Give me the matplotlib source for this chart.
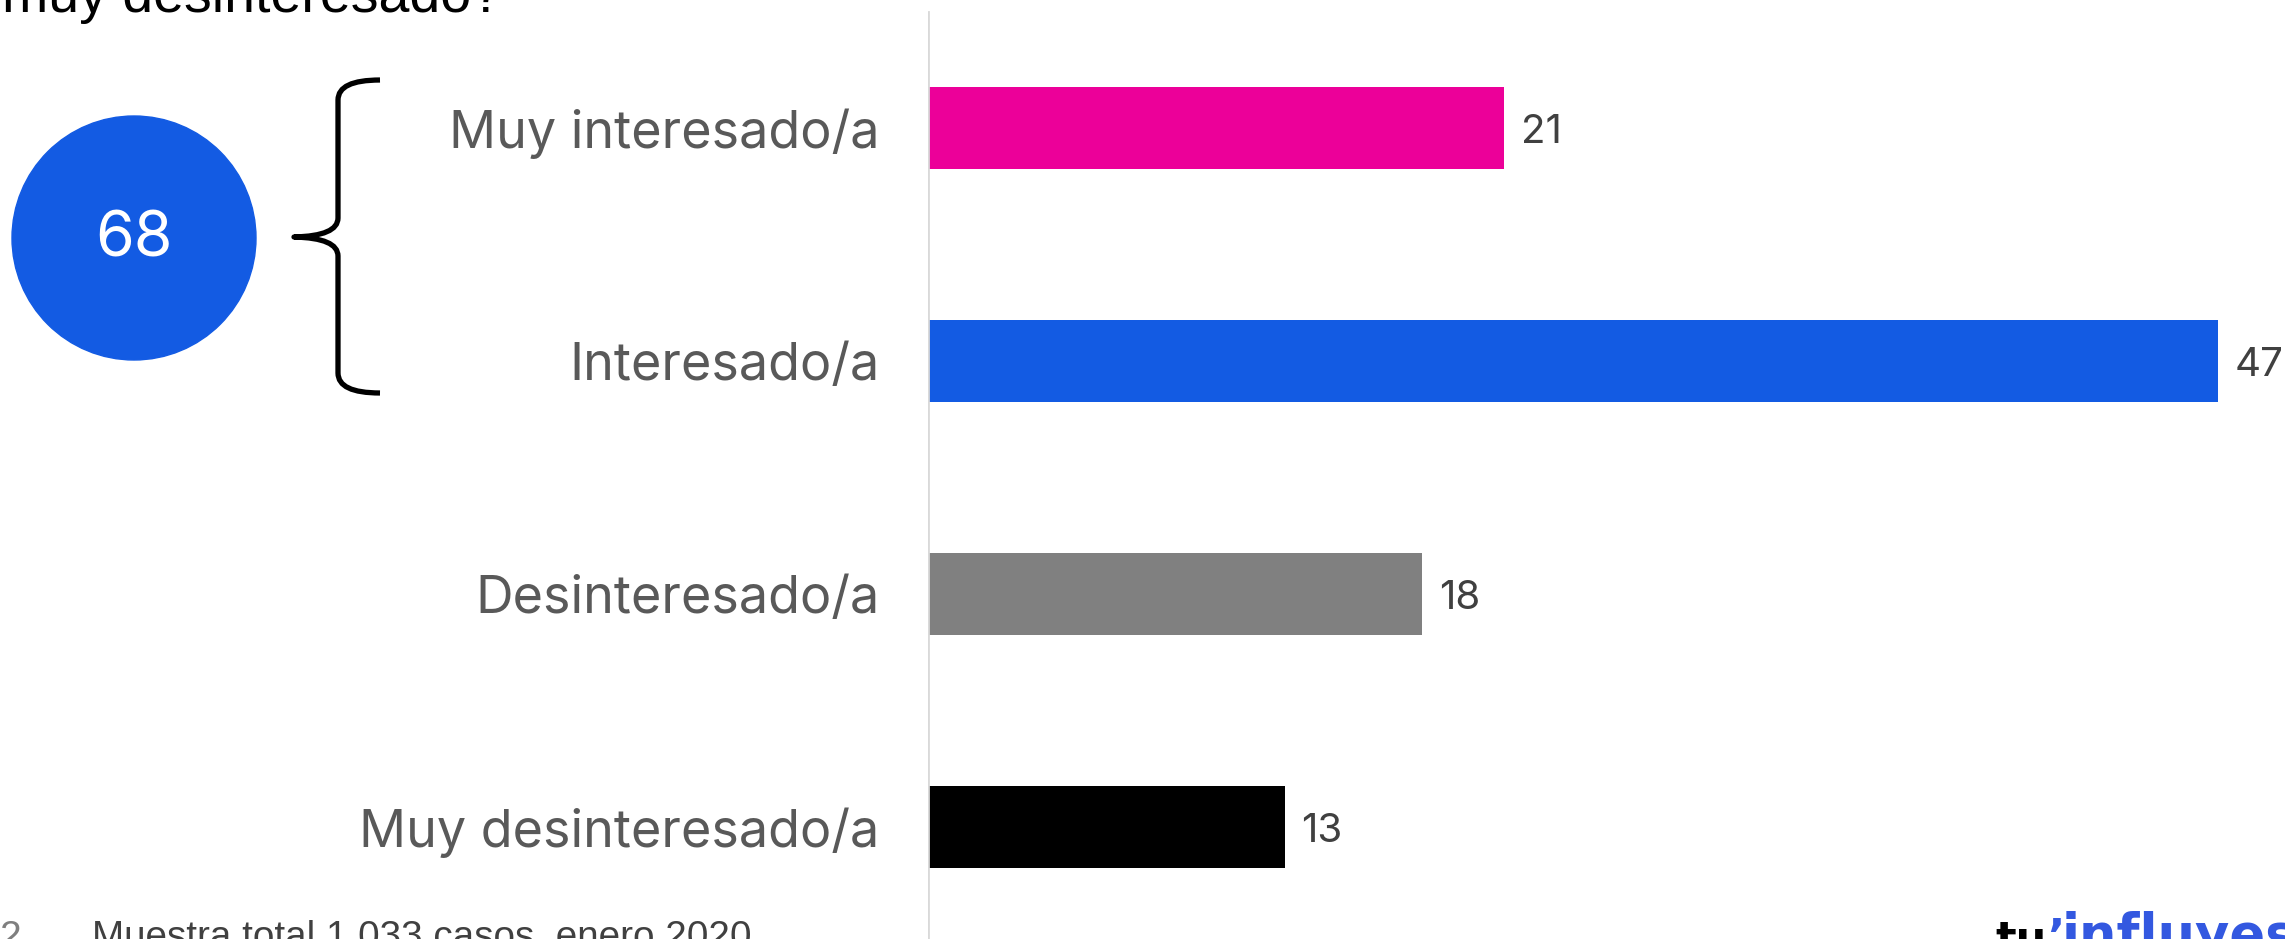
import matplotlib
matplotlib.use("Agg")
import matplotlib.pyplot as plt
from matplotlib.patches import Circle, PathPatch
from matplotlib.path import Path

# data
categories = ["Muy interesado/a", "Interesado/a", "Desinteresado/a", "Muy desinteresado/a"]
values = [21, 47, 18, 13]
colors = ["#EC0099", "#135BE3", "#808080", "#000000"]
total_interested = 68

W, H = 2285, 939
fig = plt.figure(figsize=(W / 100, H / 100), dpi=100)
fig.patch.set_facecolor("white")

# bar axes (left edge at x=928 px)
px_per_unit = 27.45
x0 = 928
ax = fig.add_axes([x0 / W, 0, 1 - x0 / W, 1])
ax.patch.set_visible(False)
ypos = list(range(len(categories)))
ax.barh(ypos, values, height=0.352, color=colors)
ax.set_xlim(0, (W - x0) / px_per_unit)
ax.set_ylim(3.481, -0.549)
for s in ax.spines.values():
    s.set_visible(False)
ax.axvline(0, ymin=0, ymax=1 - 12 / H, color="#D9D9D9", lw=2)
ax.set_xticks([])
ax.set_yticks(ypos)
ax.set_yticklabels(categories, fontsize=37.5, color="#595959", family="Inter")
ax.tick_params(axis="y", length=0, pad=35)
for y, v in zip(ypos, values):
    ax.text(v + 0.6, y + 0.02, str(v), va="center", ha="left", fontsize=29,
            color="#404040", family="Inter")

# overlay in pixel coordinates for the decorations
ov = fig.add_axes([0, 0, 1, 1], zorder=-1)
ov.set_xlim(0, W)
ov.set_ylim(H, 0)
ov.axis("off")

ov.add_patch(Circle((134, 238), 122, color="#135BE3"))
ov.text(134, 240, str(total_interested), ha="center", va="center", fontsize=45,
        color="white", family="Inter")

# curly brace
verts = [(380, 80), (338, 80), (338, 100),
         (338, 218),
         (338, 236), (294, 237),
         (338, 238), (338, 256),
         (338, 373),
         (338, 393), (380, 393)]
codes = [Path.MOVETO, Path.CURVE3, Path.CURVE3,
         Path.LINETO,
         Path.CURVE3, Path.CURVE3,
         Path.CURVE3, Path.CURVE3,
         Path.LINETO,
         Path.CURVE3, Path.CURVE3]
ov.add_patch(PathPatch(Path(verts, codes), fill=False, lw=3.8, edgecolor="black",
                       capstyle="butt", joinstyle="round"))

# cropped slide texts
ov.text(2, 12, "muy desinteresado?", ha="left", va="baseline", fontsize=40,
        color="black", family="Liberation Sans")
ov.text(0, 948, "2", ha="left", va="baseline", fontsize=28, color="#7F7F7F",
        family="Liberation Sans")
ov.text(92, 948, "Muestra total 1.033 casos, enero 2020", ha="left", va="baseline",
        fontsize=27.8, color="#404040", family="Liberation Sans")
ov.text(1995, 952, "tu", ha="left", va="baseline", fontsize=31, fontweight="heavy",
        color="black", family="DejaVu Sans")
ov.text(2047, 952, "’", ha="left", va="baseline", fontsize=33,
        fontweight="heavy", color="#3358E0", family="DejaVu Sans")
ov.text(2062, 952, "influyes", ha="left", va="baseline", fontsize=38,
        fontweight="heavy", color="#3358E0", family="DejaVu Sans")

fig.savefig("out.png", dpi=100)
